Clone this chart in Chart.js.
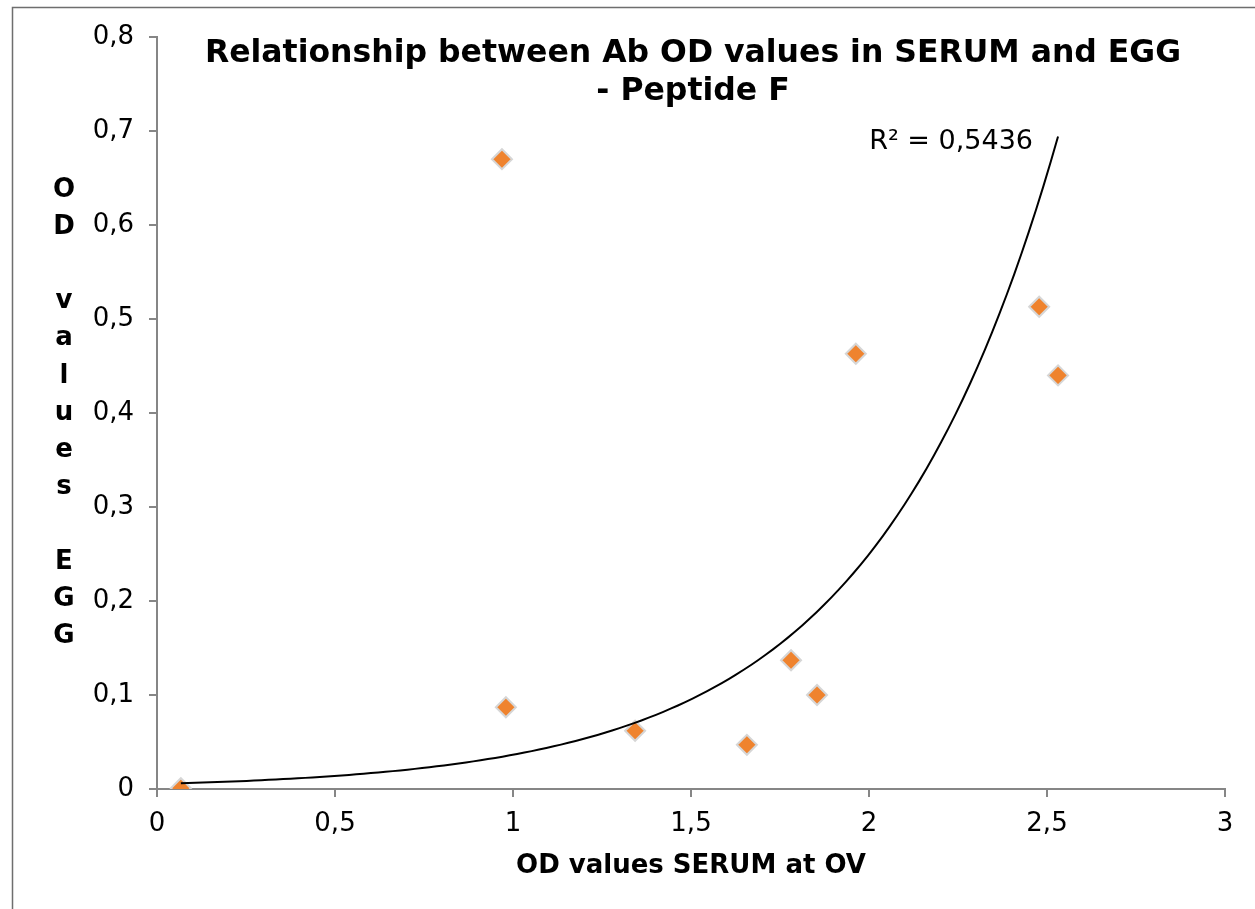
<!DOCTYPE html>
<html>
<head>
<meta charset="utf-8">
<script src="https://cdn.jsdelivr.net/npm/chart.js@4.4.1/dist/chart.umd.min.js"></script>
<style>
  html, body { margin: 0; padding: 0; background: #fff; }
  #wrap { width: 1255px; height: 909px; position: relative; }
</style>
</head>
<body>
<div id="wrap"><canvas id="chart" width="1255" height="909"></canvas></div>
<script>
// values
const serumOD = [0.067, 0.969, 0.980, 1.343, 1.657, 1.781, 1.854, 1.963, 2.478, 2.531];
const eggOD   = [0.00085, 0.670, 0.087, 0.062, 0.047, 0.137, 0.100, 0.463, 0.513, 0.440];

const chartTitle = ['Relationship between Ab OD values in SERUM and EGG', '- Peptide F'];
const xTitle = 'OD values SERUM at OV';
const yTitleLines = ['O', 'D', '', 'v', 'a', 'l', 'u', 'e', 's', '', 'E', 'G', 'G'];
const rSquaredLabel = 'R² = 0,5436';

const FONT = '"DejaVu Sans", Verdana, sans-serif';
const AXIS_GREY = '#868686';

// exponential trendline, least squares on ln(y), like the spreadsheet does
function expFit(xs, ys) {
  const n = xs.length;
  const ly = ys.map(v => Math.log(v));
  const mx = xs.reduce((s, v) => s + v, 0) / n;
  const my = ly.reduce((s, v) => s + v, 0) / n;
  let sxy = 0, sxx = 0;
  xs.forEach((x, i) => {
    sxy += (x - mx) * (ly[i] - my);
    sxx += (x - mx) * (x - mx);
  });
  const b = sxy / sxx;
  const a = Math.exp(my - b * mx);
  return x => a * Math.exp(b * x);
}

const fit = expFit(serumOD, eggOD);
const xMin = Math.min(...serumOD);
const xMax = Math.max(...serumOD);
const trend = [];
for (let i = 0; i <= 120; i++) {
  const x = xMin + (xMax - xMin) * i / 120;
  trend.push({ x, y: fit(x) });
}

const points = serumOD.map((x, i) => ({ x, y: eggOD[i] }));

const comma = v => String(Math.round(v * 10) / 10).replace('.', ',');

const framePlugin = {
  id: 'frame',
  beforeDraw(chart) {
    const ctx = chart.ctx;
    ctx.save();
    ctx.fillStyle = '#fff';
    ctx.fillRect(0, 0, chart.width, chart.height);
    ctx.strokeStyle = '#6e6e6e';
    ctx.lineWidth = 1.5;
    ctx.strokeRect(12.5, 7.5, chart.width + 20, chart.height + 20);
    ctx.restore();
  }
};

const textPlugin = {
  id: 'texts',
  afterDraw(chart) {
    const ctx = chart.ctx;
    const area = chart.chartArea;
    const cx = (area.left + area.right) / 2;
    ctx.save();
    ctx.fillStyle = '#000';

    // chart title, overlaid on the top of the plot
    ctx.font = 'bold 31.5px ' + FONT;
    ctx.textAlign = 'center';
    ctx.textBaseline = 'alphabetic';
    chartTitle.forEach((t, i) => ctx.fillText(t, cx + 2, area.top + 25 + i * 38));

    // x axis title
    ctx.font = 'bold 26px ' + FONT;
    ctx.fillText(xTitle, cx, area.bottom + 84);

    // y axis title, one letter per line
    const cy = (area.top + area.bottom) / 2;
    const step = 37.2;
    ctx.textBaseline = 'middle';
    yTitleLines.forEach((ch, i) => {
      ctx.fillText(ch, 64, cy + (i - (yTitleLines.length - 1) / 2) * step);
    });

    // R squared label next to the end of the trendline
    const last = trend[trend.length - 1];
    const ex = chart.scales.x.getPixelForValue(last.x);
    const ey = chart.scales.y.getPixelForValue(last.y);
    ctx.font = '27px ' + FONT;
    ctx.textAlign = 'right';
    ctx.textBaseline = 'alphabetic';
    ctx.fillText(rSquaredLabel, ex - 25, ey + 12);
    ctx.restore();
  }
};

new Chart(document.getElementById('chart'), {
  type: 'scatter',
  data: {
    datasets: [
      {
        label: 'trend',
        data: trend,
        showLine: true,
        borderColor: '#000',
        borderWidth: 2,
        pointRadius: 0,
        tension: 0,
        order: 0
      },
      {
        label: 'Peptide F',
        data: points,
        pointStyle: 'rectRot',
        pointRadius: 10,
        pointBackgroundColor: '#EF832E',
        pointBorderColor: '#D6D6D6',
        pointBorderWidth: 2,
        order: 1
      }
    ]
  },
  options: {
    responsive: false,
    animation: false,
    devicePixelRatio: 1,
    layout: { padding: { left: 0, top: 37, right: 30, bottom: 0 } },
    plugins: {
      legend: { display: false },
      title: { display: false },
      tooltip: { enabled: false }
    },
    scales: {
      x: {
        type: 'linear',
        min: 0,
        max: 3,
        afterFit: s => { s.height = 120; },
        ticks: {
          stepSize: 0.5,
          color: '#000',
          padding: 12,
          font: { family: FONT, size: 26 },
          callback: v => comma(v)
        },
        grid: { drawOnChartArea: false, drawTicks: true, tickLength: 8, color: AXIS_GREY, lineWidth: 2 },
        border: { display: true, color: AXIS_GREY, width: 2 }
      },
      y: {
        type: 'linear',
        min: 0,
        max: 0.8,
        afterFit: s => { s.width = 157; },
        ticks: {
          stepSize: 0.1,
          color: '#000',
          padding: 15,
          font: { family: FONT, size: 26 },
          callback: v => comma(v)
        },
        grid: { drawOnChartArea: false, drawTicks: true, tickLength: 8, color: AXIS_GREY, lineWidth: 2 },
        border: { display: true, color: AXIS_GREY, width: 2 }
      }
    }
  },
  plugins: [framePlugin, textPlugin]
});
</script>
</body>
</html>
